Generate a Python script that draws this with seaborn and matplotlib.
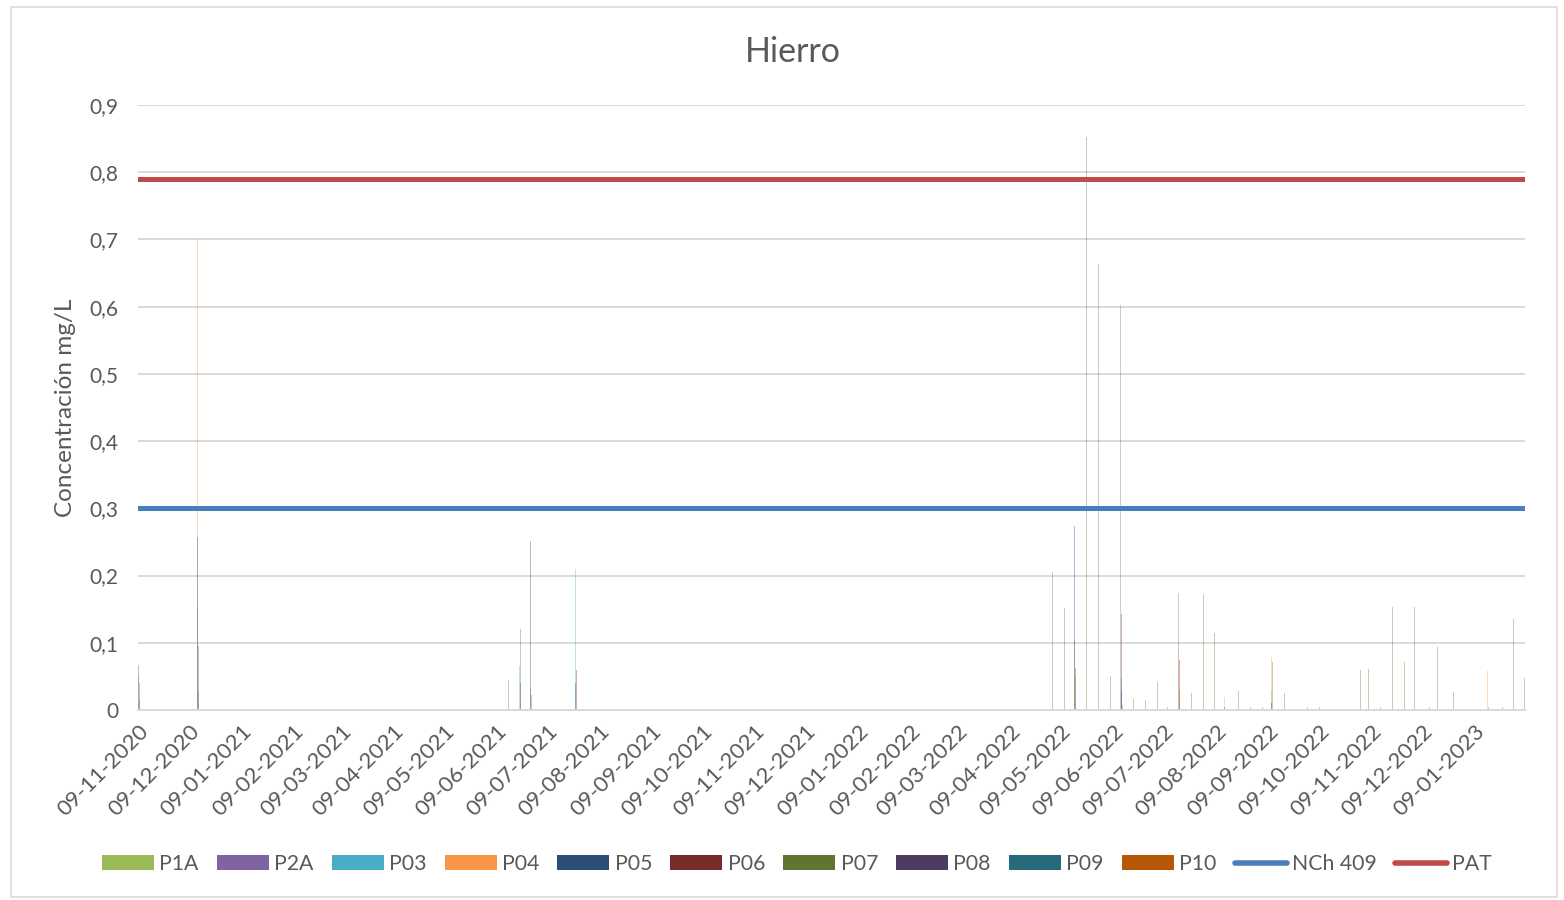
import pandas as pd
import numpy as np
import matplotlib
matplotlib.use("Agg")
import matplotlib.pyplot as plt
import matplotlib.dates as mdates
from matplotlib.patches import Patch, Rectangle
from matplotlib.lines import Line2D
from matplotlib.ticker import FuncFormatter
import seaborn as sns

# ---------------- data ----------------
series_names = ["P1A", "P2A", "P03", "P04", "P05", "P06", "P07", "P08", "P09", "P10"]
series_colors = ["#9BBB59", "#8064A2", "#4BACC6", "#F79646", "#2C4D75",
                 "#772C2A", "#5F7530", "#4D3B62", "#276A7C", "#B65708"]

P1A = {"2022-09-11": 0.030}
P2A = {"2020-11-09": 0.050, "2022-06-14": 0.603, "2022-07-18": 0.174}
P03 = {"2020-12-14": 0.155, "2021-06-23": 0.065, "2021-07-26": 0.210, "2022-06-14": 0.047}
P04 = {"2020-11-09": 0.052, "2020-12-14": 0.700, "2022-07-18": 0.097, "2022-08-14": 0.019,
       "2022-09-11": 0.079, "2022-10-09": 0.004, "2023-01-17": 0.058}
P05 = {"2020-11-09": 0.067, "2020-12-14": 0.258, "2021-06-29": 0.252, "2021-07-26": 0.040,
       "2022-05-17": 0.273, "2022-06-14": 0.029, "2022-07-18": 0.047, "2022-09-11": 0.010}
P06 = {"2021-06-23": 0.040, "2021-07-26": 0.060, "2022-06-14": 0.143, "2022-07-18": 0.074,
       "2022-08-14": 0.005}
P07 = {"2021-06-16": 0.045, "2021-06-23": 0.120, "2021-06-29": 0.033, "2021-07-14": 0.013,
       "2021-07-27": 0.030, "2022-05-04": 0.205, "2022-05-11": 0.151, "2022-05-17": 0.106,
       "2022-05-24": 0.853, "2022-05-31": 0.663, "2022-06-07": 0.050, "2022-06-21": 0.017,
       "2022-06-28": 0.015, "2022-07-05": 0.041, "2022-07-11": 0.005, "2022-07-18": 0.030,
       "2022-07-25": 0.025, "2022-08-01": 0.173, "2022-08-08": 0.115, "2022-08-22": 0.028,
       "2022-08-29": 0.004, "2022-09-05": 0.004, "2022-09-11": 0.072, "2022-09-18": 0.025,
       "2022-09-25": 0.004, "2022-10-02": 0.004, "2022-10-09": 0.005, "2022-11-02": 0.060,
       "2022-11-07": 0.061, "2022-11-14": 0.004, "2022-11-21": 0.153, "2022-11-28": 0.071,
       "2022-12-04": 0.153, "2022-12-13": 0.004, "2022-12-18": 0.093, "2022-12-27": 0.027,
       "2023-01-17": 0.004, "2023-01-25": 0.004, "2023-02-01": 0.135, "2023-02-07": 0.047}
P08 = {}
P09 = {"2020-11-09": 0.040, "2020-12-14": 0.095, "2021-06-29": 0.022, "2022-05-17": 0.063}
P10 = {"2020-11-09": 0.015, "2020-12-14": 0.028, "2022-05-17": 0.049, "2022-06-14": 0.007}

nch409_value = 0.30
pat_value = 0.79
limit_dates = ["2020-11-09", "2023-02-08"]

y_ticks = [0, 0.1, 0.2, 0.3, 0.4, 0.5, 0.6, 0.7, 0.8, 0.9]
x_tick_months_start = "2020-11-01"
x_tick_months_end = "2023-01-01"

title = "Hierro"
ylabel = "Concentración mg/L"

# ---------------- build frames ----------------
series_data = [P1A, P2A, P03, P04, P05, P06, P07, P08, P09, P10]
rows = []
for name, d in zip(series_names, series_data):
    for k, v in d.items():
        rows.append({"fecha": pd.Timestamp(k), "serie": name, "valor": v})
bars = pd.DataFrame(rows)

lines = pd.DataFrame({
    "fecha": [pd.Timestamp(d) for d in limit_dates] * 2,
    "valor": [nch409_value] * 2 + [pat_value] * 2,
    "serie": ["NCh 409"] * 2 + ["PAT"] * 2,
})

# ---------------- style ----------------
sns.set_theme(style="white")
plt.rcParams["font.family"] = ["Lato", "DejaVu Sans"]
txt = "#595959"
grid_c = "#D9D9D9"

fig = plt.figure(figsize=(15.64, 9.0), dpi=100)
ax = fig.add_axes([138 / 1564, 1 - 710 / 900, (1525 - 138) / 1564, (710 - 105) / 900])

# gridlines
ax.set_axisbelow(True)
ax.yaxis.grid(True, color=grid_c, linewidth=1.4)
ax.xaxis.grid(False)

# bars (very thin, like Excel date-axis clustered bars)
for i, (name, col) in enumerate(zip(series_names, series_colors)):
    sub = bars[bars["serie"] == name]
    if sub.empty:
        continue
    offs = pd.to_timedelta((i - 4.5) * 0.12, unit="D")
    ax.bar(sub["fecha"] + offs, sub["valor"], width=0.55, color=col,
           alpha=0.36, linewidth=0, zorder=2)

# reference lines
sns.lineplot(data=lines, x="fecha", y="valor", hue="serie",
             palette={"NCh 409": "#4A7EBB", "PAT": "#BE4B48"},
             linewidth=3.6, legend=False, ax=ax, zorder=3)

# axes
ax.set_ylim(0, 0.9)
ax.set_yticks(y_ticks)
ax.yaxis.set_major_formatter(FuncFormatter(
    lambda v, p: "0" if abs(v) < 1e-9 else f"{v:.1f}".replace(".", ",")))
ax.set_xlim(pd.Timestamp("2020-11-09") - pd.Timedelta(hours=6), pd.Timestamp("2023-02-07 18:00"))
xt = pd.date_range(x_tick_months_start, x_tick_months_end, freq="MS") + pd.Timedelta(days=8)
ax.set_xticks(xt)
ax.xaxis.set_major_formatter(mdates.DateFormatter("%d-%m-%Y"))
ax.tick_params(axis="both", length=0, colors=txt)
ax.tick_params(axis="y", labelsize=15, pad=14)
ax.tick_params(axis="x", labelsize=16, pad=8)
for lab in ax.get_xticklabels():
    lab.set_rotation(45)
    lab.set_ha("right")
    lab.set_rotation_mode("anchor")
for s in ["top", "right", "left"]:
    ax.spines[s].set_visible(False)
ax.spines["bottom"].set_color(grid_c)
ax.spines["bottom"].set_linewidth(1.4)
ax.set_xlabel("")
ax.set_ylabel(ylabel, fontsize=17.5, color=txt, labelpad=10)

fig.text(793 / 1564, 1 - 52 / 900, title, ha="center", va="center", fontsize=24.5, color=txt)

# legend
handles = [Patch(facecolor=c, edgecolor="none") for c in series_colors]
handles += [Line2D([0], [0], color="#4A7EBB", lw=4, solid_capstyle="round"),
            Line2D([0], [0], color="#BE4B48", lw=4, solid_capstyle="round")]
labels = series_names + ["NCh 409", "PAT"]
fig.legend(handles, labels, loc="center", bbox_to_anchor=(797 / 1564, 1 - 864 / 900),
           ncol=12, frameon=False, fontsize=15.3, labelcolor=txt,
           handlelength=2.45, handleheight=0.7, handletextpad=0.25, columnspacing=0.85)

# outer chart border
fig.patches.append(Rectangle((11 / 1564, 3 / 900), 1546 / 1564, 890 / 900,
                             transform=fig.transFigure, fill=False,
                             edgecolor=grid_c, linewidth=1.2))

fig.savefig("out.png", dpi=100)
